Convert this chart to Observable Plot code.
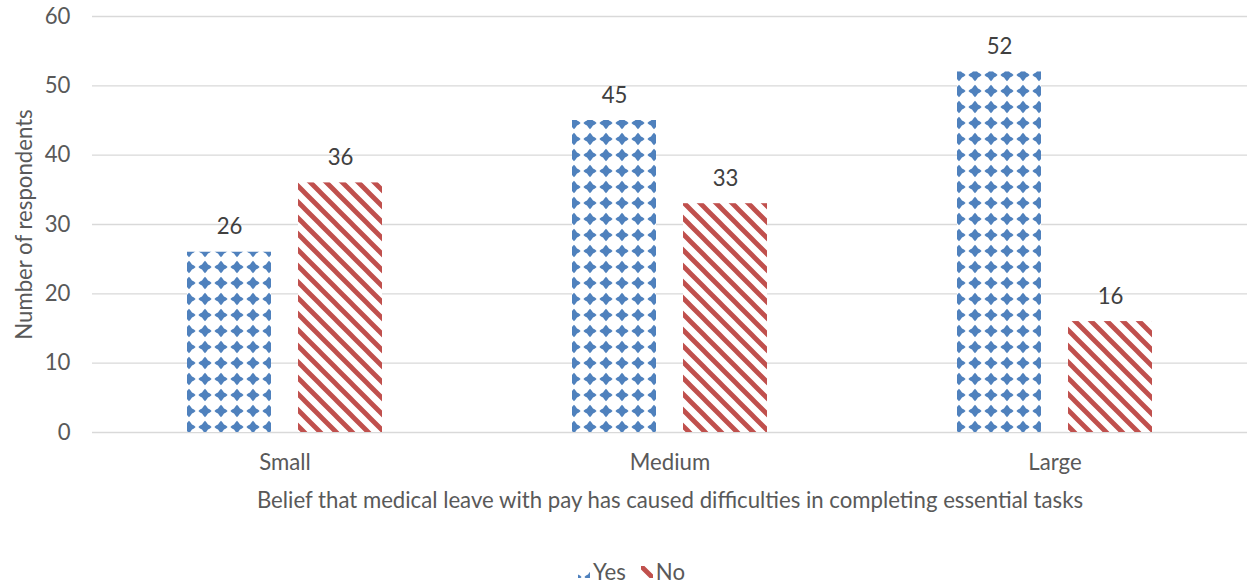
<!DOCTYPE html>
<html>
<head>
<meta charset="utf-8">
<script src="https://cdn.jsdelivr.net/npm/d3@7"></script>
<script src="https://cdn.jsdelivr.net/npm/@observablehq/plot@0.6"></script>
<style>
  html, body { margin: 0; padding: 0; background: #fff; }
  #chart svg { display: block; }
  #legend { display: flex; justify-content: center; align-items: center; gap: 15px; color: #595959; padding-left: 16px; }
  #legend .item { display: flex; align-items: center; gap: 3px; }
  #legend svg { display: block; }
</style>
</head>
<body>
<div id="chart"></div>
<div id="legend"></div>
<script>
// ---- data ----
const categories = ["Small", "Medium", "Large"];
const series = ["Yes", "No"];
const yesValues = [26, 45, 52];
const noValues = [36, 33, 16];
const yTicks = [0, 10, 20, 30, 40, 50, 60];
const xTitle = "Belief that medical leave with pay has caused difficulties in completing essential tasks";
const yTitle = "Number of respondents";

const seriesColors = {Yes: "#4f81bd", No: "#c0504d"};
const patternIds = {Yes: "pat-yes", No: "pat-no"};

const data = categories.flatMap((c, i) => [
  {category: c, series: "Yes", value: yesValues[i]},
  {category: c, series: "No", value: noValues[i]}
]);

// fit font size so the x title has the reference width
const FONT = "Lato, 'Open Sans', sans-serif";
const ctx = document.createElement("canvas").getContext("2d");
ctx.font = `100px Lato`;
const w100 = ctx.measureText(xTitle).width;
const fontSize = Math.max(14, Math.min(24, 100 * 828 / w100));

const chart = Plot.plot({
  width: 1247,
  height: 530,
  marginTop: 16,
  marginLeft: 92,
  marginRight: 0,
  marginBottom: 98,
  style: {fontFamily: FONT, fontSize: fontSize + "px", color: "#595959", background: "#fff"},
  fx: {domain: categories, padding: 0, axis: null},
  x: {domain: series, paddingInner: 0.241, paddingOuter: 0.8435, axis: null},
  y: {domain: [0, 60], axis: null},
  color: {domain: series, range: series.map(s => `url(#${patternIds[s]})`)},
  marks: [
    Plot.ruleY(yTicks, {stroke: "#d9d9d9", strokeWidth: 1.3}),
    Plot.barY(data, {fx: "category", x: "series", y: "value", fill: "series"}),
    Plot.text(data, {fx: "category", x: "series", y: "value", text: d => String(d.value), dy: -25, fill: "#404040"}),
    Plot.axisY({ticks: yTicks, tickSize: 0, tickPadding: 22, label: yTitle, labelAnchor: "center", labelArrow: "none", labelOffset: 76}),
    Plot.axisFx({anchor: "bottom", tickSize: 0, tickPadding: 22, label: xTitle, labelAnchor: "center", labelArrow: "none", labelOffset: 75})
  ]
});

// patterns
const NS = "http://www.w3.org/2000/svg";
function addPatterns(svg) {
  const defs = document.createElementNS(NS, "defs");
  defs.innerHTML = `
    <pattern id="${patternIds.Yes}" patternUnits="userSpaceOnUse" x="5" y="3" width="16" height="16">
      <rect width="16" height="16" fill="#fff"/>
      <polygon points="8,1.8 9.6,3.6 11,5.4 13,6.4 14.6,8 13,9.6 11,10.6 9.6,12.4 8,14.2 6.4,12.4 5,10.6 3,9.6 1.4,8 3,6.4 5,5.4 6.4,3.6" fill="${seriesColors.Yes}"/>
    </pattern>
    <pattern id="${patternIds.No}" patternUnits="userSpaceOnUse" width="16" height="16">
      <rect width="16" height="16" fill="#fff"/>
      <path d="M-4,-4L20,20M12,-4L20,4M-4,12L4,20" stroke="${seriesColors.No}" stroke-width="4.8"/>
    </pattern>`;
  svg.insertBefore(defs, svg.firstChild);
}
addPatterns(chart);
document.getElementById("chart").appendChild(chart);

// legend
const legend = document.getElementById("legend");
legend.style.fontFamily = FONT;
legend.style.fontSize = fontSize + "px";
legend.style.marginTop = "28px";
for (const s of series) {
  const item = document.createElement("div");
  item.className = "item";
  const sw = document.createElementNS(NS, "svg");
  sw.setAttribute("width", 12);
  sw.setAttribute("height", 12);
  const r = document.createElementNS(NS, "rect");
  r.setAttribute("width", 12);
  r.setAttribute("height", 12);
  r.setAttribute("fill", `url(#${patternIds[s]})`);
  sw.appendChild(r);
  item.appendChild(sw);
  const t = document.createElement("span");
  t.textContent = s;
  item.appendChild(t);
  legend.appendChild(item);
}
</script>
</body>
</html>
